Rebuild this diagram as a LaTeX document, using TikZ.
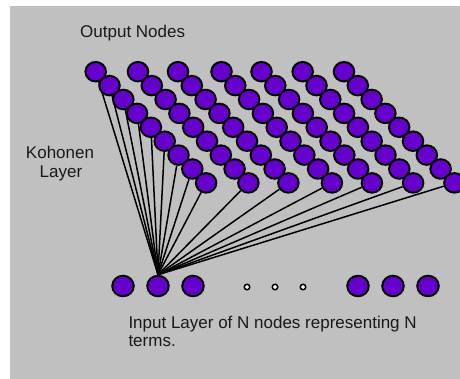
\documentclass[tikz,border=0pt]{standalone}
\usepackage{fontspec}
\setmainfont{Liberation Sans}
\usetikzlibrary{shapes.geometric}
\definecolor{bggrey}{RGB}{192,192,192}
\definecolor{nodepurple}{RGB}{102,0,204}
\pgfdeclarelayer{bg}
\pgfdeclarelayer{wires}
\pgfsetlayers{bg,wires,main}
\begin{document}
\begin{tikzpicture}[x=1pt,y=-1pt,
  outnode/.style={ellipse, draw=black, line width=2pt, fill=nodepurple,
    minimum width=20.5pt, minimum height=19.5pt, inner sep=0pt},
  innode/.style={ellipse, draw=black, line width=2pt, fill=nodepurple,
    minimum width=21.5pt, minimum height=20.5pt, inner sep=0pt},
  dotnode/.style={circle, draw=black, fill=white, line width=1.5pt,
    minimum size=5.5pt, inner sep=0pt},
  wire/.style={line width=1.5pt, black},
  lbl/.style={font=\fontsize{17}{19}\selectfont, inner sep=0pt, text=black!90}]
\useasboundingbox (0,0) rectangle (460,379);
\clip (0,0) rectangle (460,379);
\begin{pgfonlayer}{bg}
  \fill[bggrey] (10,6) rectangle (460,379);
\end{pgfonlayer}
% output grid
\foreach \c/\xt in {1/95.7,2/138,3/178,4/221.5,5/261.5,6/302.7,7/344}{
  \foreach \r in {0,...,8}{
    \node[outnode] (o-\c-\r) at ({\xt+13.8*\r},{71.7+13.9*\r}) {};
  }
}
% input layer
\node[innode] (in1) at (123,286) {};
\node[innode] (in2) at (158,286) {};
\node[innode] (in3) at (193,286) {};
\node[dotnode] (d1) at (247,287) {};
\node[dotnode] (d2) at (275,287) {};
\node[dotnode] (d3) at (303,287) {};
\node[innode] (in4) at (358,286) {};
\node[innode] (in5) at (393,286) {};
\node[innode] (in6) at (428,286) {};
% connectors
\begin{pgfonlayer}{wires}
  \foreach \r in {0,...,8}{\draw[wire] (in2.north) -- (o-1-\r);}
  \foreach \c in {2,...,7}{\draw[wire] (in2.north) -- (o-\c-8);}
\end{pgfonlayer}
% labels
\node[lbl, anchor=base west] (tout) at (80,37.7) {Output Nodes};
\node[lbl, anchor=base] (tkoh1) at (60,159) {Kohonen};
\node[lbl, anchor=base] (tkoh2) at (61,178) {Layer};
\node[lbl, anchor=base west] (tin1) at (128.3,328) {Input Layer of N nodes representing N};
\node[lbl, anchor=base west] (tin2) at (128.3,346) {terms.};
\end{tikzpicture}
\end{document}
